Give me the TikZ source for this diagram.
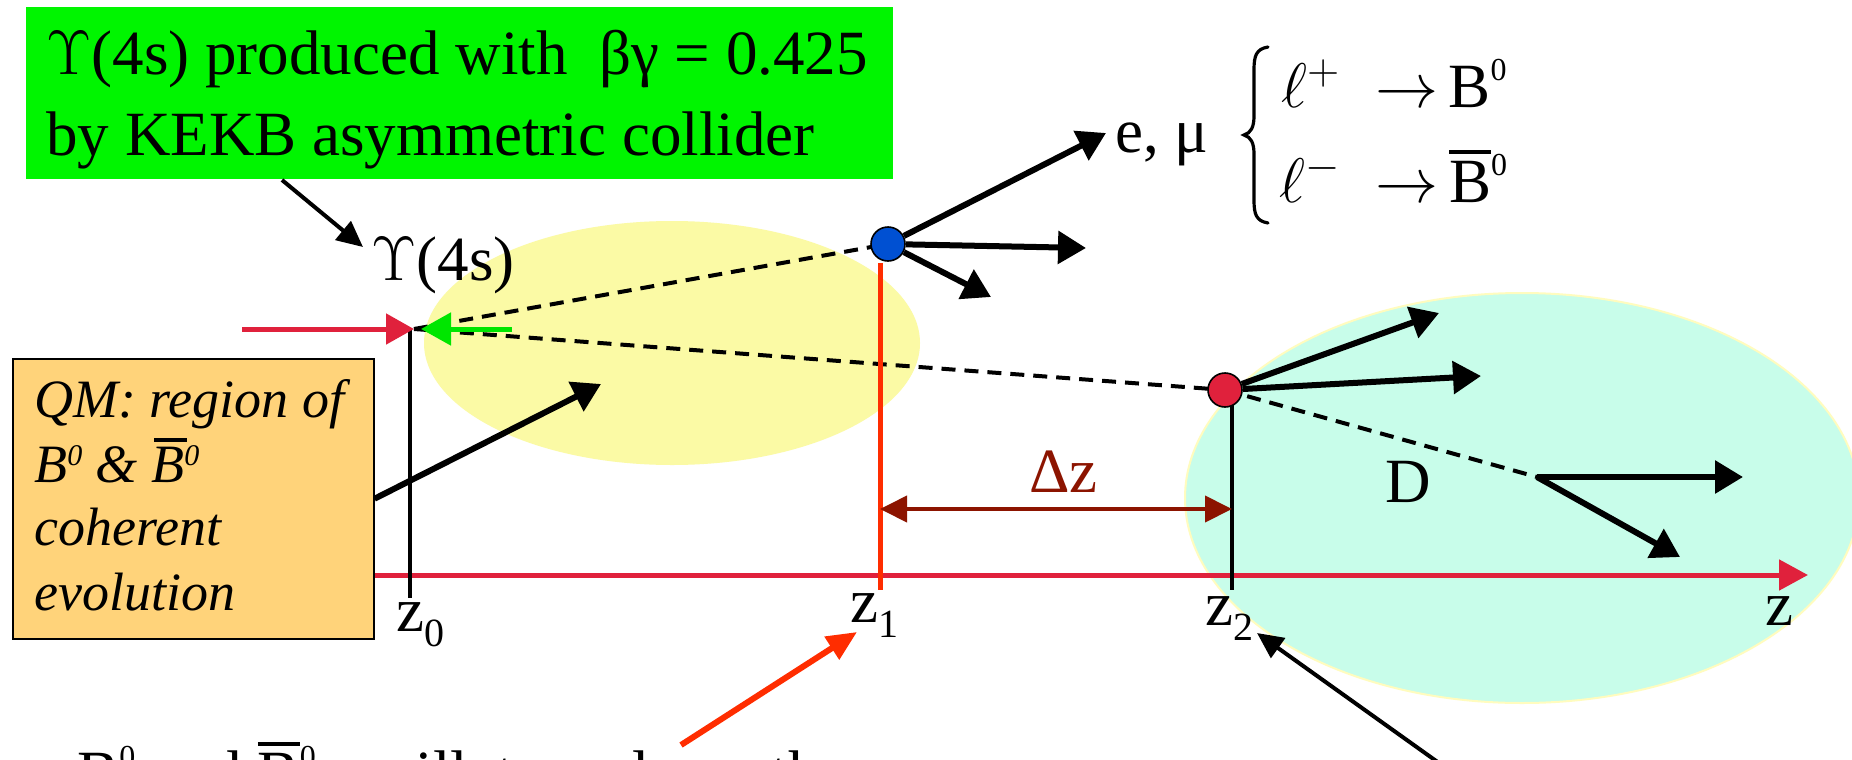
\RequirePackage{fix-cm}
\documentclass[tikz,border=0pt]{standalone}
\usepackage{fontspec}
\setmainfont{Liberation Serif}
\usetikzlibrary{arrows.meta}
\definecolor{gboxc}{RGB}{0,245,0}
\definecolor{yellc}{RGB}{251,250,165}
\definecolor{cyanc}{RGB}{200,253,234}
\definecolor{oboxc}{RGB}{255,211,122}
\definecolor{crim}{RGB}{224,33,60}
\definecolor{ored}{RGB}{255,45,0}
\definecolor{dred}{RGB}{140,20,0}
\definecolor{bdot}{RGB}{0,80,210}
\definecolor{grarr}{RGB}{0,230,0}
\newcommand\ovl[3]{\setbox0\hbox{#1}\rlap{\kern#3\raise#2\hbox{\vrule width\wd0 height 2.2pt depth 0pt}}\box0}
\newcommand\bigf{\fontsize{31.5}{38}\selectfont}
\newcommand\itf{\fontsize{27}{32}\selectfont\itshape}
\newcommand\zsub[1]{\raisebox{-7.5pt}{\fontsize{20}{20}\selectfont #1}}
\newcommand\supz[1]{\raisebox{13.5pt}{\fontsize{16}{16}\selectfont #1}}
\newcommand\supi[1]{\raisebox{8.5pt}{\fontsize{15}{15}\selectfont #1}}
\begin{document}
\begin{tikzpicture}[x=0.5pt,y=-0.5pt,
  txt/.style={inner sep=0pt, anchor=base west, font=\bigf},
  itxt/.style={inner sep=0pt, anchor=base west, font=\itf},
  bigarrow/.style={line width=3pt, -{Triangle[length=14pt,width=16pt]}},
  thinarrow/.style={line width=2pt, -{Triangle[length=13pt,width=12pt]}},
  dashline/.style={line width=2pt, dash pattern=on 7pt off 4.5pt},
  dot/.style={circle, draw=black, line width=0.8pt, minimum size=17pt, inner sep=0pt}]
\clip (0,0) rectangle (1852,760);
\fill[white] (0,0) rectangle (1852,760);
% regions
\fill[cyanc, draw=yellow!25, line width=1pt] (1522,498) ellipse [x radius=168.5pt, y radius=102.5pt];
\fill[yellc] (672,343) ellipse [x radius=124pt, y radius=61pt];
% key points
\coordinate (v0) at (414,329);
\coordinate (c1) at (888,244);
\coordinate (c2) at (1225,390);
\coordinate (dv) at (1537,477);
% dashed flight paths
\draw[dashline] (v0) -- (c1);
\draw[dashline] (v0) -- (c2);
\draw[dashline] (c2) -- (dv);
% z axis
\coordinate (ax0) at (300,575);
\coordinate (ax1) at (1808,575);
\draw[crim, line width=2.5pt, -{Triangle[length=14.5pt,width=15pt]}] (ax0) -- (ax1);
% vertical markers
\coordinate (z0t) at (410,329); \coordinate (z0b) at (410,598);
\coordinate (z1t) at (880,263); \coordinate (z1b) at (880,590);
\coordinate (z2t) at (1232,390); \coordinate (z2b) at (1232,590);
\draw[line width=1.75pt] (z0t) -- (z0b);
\draw[ored, line width=2.5pt] (z1t) -- (z1b);
\draw[line width=1.75pt] (z2t) -- (z2b);
% beams
\coordinate (rin) at (242,329);
\coordinate (gin) at (512,329);
\coordinate (gtip) at (421,329);
\draw[crim, line width=2.5pt, -{Triangle[length=14pt,width=15pt]}] (rin) -- (v0);
\draw[grarr, line width=2.5pt, -{Triangle[length=15pt,width=16pt]}] (gin) -- (gtip);
% delta z
\coordinate (dz1) at (880,509);
\coordinate (dz2) at (1232,509);
\draw[dred, line width=2pt, {Triangle[length=13.5pt,width=13pt]}-{Triangle[length=13.5pt,width=13pt]}] (dz1) -- (dz2);
% dots
\node[dot, fill=bdot] (b1) at (c1) {};
\node[dot, fill=crim] (b2) at (c2) {};
% decay products
\coordinate (p1) at (1106,133);
\coordinate (p2) at (1086,248);
\coordinate (p3) at (991,297);
\coordinate (p4) at (1439,313);
\coordinate (p5) at (1481,376);
\coordinate (p6) at (1743,477);
\coordinate (p7) at (1680,557);
\draw[bigarrow] (b1) -- (p1);
\draw[bigarrow] (b1) -- (p2);
\draw[bigarrow] (b1) -- (p3);
\draw[bigarrow] (b2) -- (p4);
\draw[bigarrow] (b2) -- (p5);
\draw[bigarrow] (dv) -- (p6);
\draw[bigarrow] (dv) -- (p7);
% boxes
\node[fill=gboxc, inner sep=0pt, minimum width=433.5pt, minimum height=86pt, anchor=north west] (gb) at (26,7) {};
\node[fill=oboxc, draw=black, line width=0.75pt, inner sep=0pt, minimum width=180.5pt, minimum height=140pt, anchor=north west] (qm) at (12,358) {};
% annotation arrows
\coordinate (ga0) at (282,180);
\coordinate (ga1) at (363,247);
\draw[thinarrow] (ga0) -- (ga1);
\coordinate (qa1) at (601,384);
\draw[bigarrow] (qm.east) -- (qa1);
\coordinate (oa0) at (681,745);
\coordinate (oa1) at (857,632);
\draw[ored, line width=3pt, -{Triangle[length=15pt,width=13pt]}] (oa0) -- (oa1);
\coordinate (ka0) at (1446,768);
\coordinate (ka1) at (1257,633);
\draw[thinarrow] (ka0) -- (ka1);
% brace
\draw[line width=1.6pt, line cap=round]
  (1268,47) .. controls (1256,49) and (1254,56) .. (1254,70) -- (1254,116)
  .. controls (1254,127) and (1251,133) .. (1244,135)
  .. controls (1251,137) and (1254,143) .. (1254,154) -- (1254,200)
  .. controls (1254,214) and (1256,221) .. (1268,223);
% texts
\node[txt] (t1) at (46,74) {$\Upsilon$(4s) produced with\ \ βγ = 0.425};
\node[txt] (t2) at (46,155) {by KEKB asymmetric collider};
\node[txt] (ups) at (371,280) {$\Upsilon$(4s)};
\node[txt] (emu) at (1115,152) {e, μ};
\node[txt] (lp) at (1281,107) {$\ell^{+}\mkern5mu\rightarrow$\,B\supz{0}};
\node[txt] (lm) at (1279,202) {$\ell^{-}\mkern5mu\rightarrow$\,\ovl{B}{24pt}{0pt}\supz{0}};
\node[txt, text=dred] (dzl) at (1029,492) {Δz};
\node[txt] (dl) at (1385,502) {D};
\node[txt] (z0l) at (396,631) {z\zsub{0}};
\node[txt] (z1l) at (850,622) {z\zsub{1}};
\node[txt] (z2l) at (1205,625) {z\zsub{2}};
\node[txt] (zl) at (1765,625) {z};
\node[itxt] (q1) at (34,417) {QM: region of};
\node[itxt] (q2) at (34,482) {B\supi{0} \& \ovl{B}{20pt}{1.5pt}\supi{0}};
\node[itxt] (q3) at (34,545) {coherent};
\node[itxt] (q4) at (34,610) {evolution};
\node[txt] (bt) at (77,794) {B\supz{0} and \ovl{B}{24pt}{0pt}\supz{0} oscillate and one then};
\end{tikzpicture}
\end{document}
